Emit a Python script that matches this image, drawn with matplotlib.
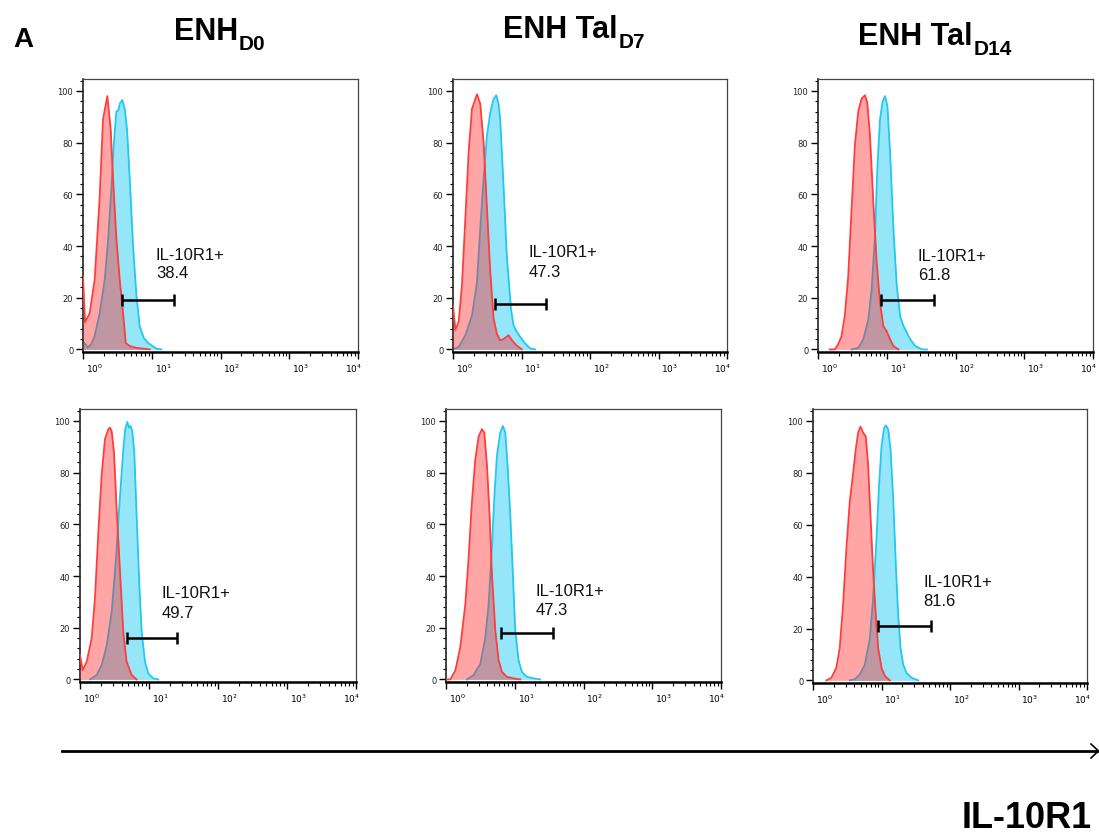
import numpy as np
import matplotlib
matplotlib.use('Agg')
import matplotlib.pyplot as plt
from matplotlib.lines import Line2D
from matplotlib.ticker import FixedLocator, LogLocator, NullFormatter, MultipleLocator
import matplotlib.transforms as mtransforms

W, H, DPI = 1099, 837, 100

# ---------------- data (log10 intensity, % of max) ----------------
p1_red_logx = [0, 0.03, 0.097, 0.17, 0.243, 0.291, 0.354, 0.403, 0.437, 0.485, 0.534, 0.583, 0.621, 0.68, 0.777, 0.874, 0.971]
p1_red_y = [28, 10.5, 14, 27, 59, 89, 98, 85, 66, 43, 27, 14, 2.5, 1.3, 0.6, 0.3, 0]
p1_blue_logx = [0, 0.07, 0.12, 0.17, 0.243, 0.316, 0.364, 0.413, 0.447, 0.485, 0.515, 0.534, 0.573, 0.607, 0.641, 0.68, 0.728, 0.777, 0.825, 0.883, 0.947, 1.01, 1.068, 1.14]
p1_blue_y = [3, 0.8, 2, 5.2, 14, 27, 42, 62, 79, 92, 92.5, 95, 96.5, 93, 85, 66, 40, 21, 9, 4.5, 2.5, 1.3, 0.3, 0]

p2_red_logx = [0, 0.034, 0.083, 0.131, 0.18, 0.228, 0.277, 0.35, 0.398, 0.447, 0.495, 0.544, 0.592, 0.641, 0.689, 0.738, 0.811, 0.859, 0.922, 1.005]
p2_red_y = [17, 7.5, 10.7, 24.8, 50.5, 76, 93, 98.7, 95, 80, 55, 30, 12, 6, 3.5, 4, 5.5, 3.6, 1.7, 0]
p2_blue_logx = [0, 0.083, 0.18, 0.277, 0.35, 0.398, 0.447, 0.495, 0.544, 0.592, 0.631, 0.665, 0.689, 0.738, 0.786, 0.825, 0.845, 0.883, 0.932, 0.981, 1.053, 1.126, 1.199]
p2_blue_y = [0, 1, 5.5, 13, 26, 46.7, 66, 82.6, 91.6, 96.8, 98.3, 95, 89, 63, 36, 23, 16, 9.4, 6.8, 4.9, 2.3, 0.4, 0]

p3_red_logx = [0.171, 0.244, 0.293, 0.341, 0.39, 0.439, 0.488, 0.537, 0.585, 0.634, 0.683, 0.717, 0.756, 0.805, 0.854, 0.902, 0.951, 1.0, 1.049, 1.098, 1.171]
p3_red_y = [0, 0, 2, 5, 13, 28, 54, 79, 92, 97, 98.3, 95.5, 82.6, 56.8, 33.5, 18, 9, 7, 3.9, 1.3, 0]
p3_blue_logx = [0.488, 0.585, 0.659, 0.732, 0.78, 0.829, 0.863, 0.902, 0.941, 0.976, 1.01, 1.049, 1.098, 1.146, 1.195, 1.244, 1.293, 1.341, 1.415, 1.512, 1.585]
p3_blue_y = [0, 0.6, 3.9, 11.6, 23, 44, 70, 89, 96, 98, 94, 76, 46, 24.5, 12.9, 9, 6.5, 3.9, 1.3, 0, 0]

p4_red_logx = [0, 0.039, 0.097, 0.169, 0.217, 0.266, 0.314, 0.362, 0.411, 0.435, 0.459, 0.493, 0.531, 0.58, 0.628, 0.676, 0.749, 0.821]
p4_red_y = [9.4, 3.6, 6.8, 15.9, 31.4, 57, 79, 93, 96.8, 97.4, 96, 87.8, 66, 41.6, 18, 6.8, 1.7, 0]
p4_blue_logx = [0.145, 0.242, 0.314, 0.386, 0.459, 0.522, 0.57, 0.604, 0.628, 0.657, 0.686, 0.71, 0.734, 0.758, 0.787, 0.821, 0.86, 0.894, 0.942, 0.99, 1.063, 1.135]
p4_blue_y = [0, 1.7, 5.5, 13, 26, 46.7, 67, 80, 89, 97, 99.6, 97.4, 98, 96, 87.8, 63, 36.4, 18.4, 6.8, 2.3, 0.4, 0]

p5_red_logx = [0, 0.063, 0.136, 0.208, 0.281, 0.329, 0.378, 0.426, 0.475, 0.523, 0.557, 0.596, 0.634, 0.668, 0.717, 0.765, 0.814, 0.886, 0.983, 1.08]
p5_red_y = [0, 0, 3.5, 12.5, 29, 47, 69, 85, 94, 96.8, 95.5, 82.8, 63.6, 40.6, 19, 7.4, 2.9, 1, 0.4, 0]
p5_blue_logx = [0.305, 0.402, 0.499, 0.571, 0.62, 0.668, 0.702, 0.741, 0.789, 0.828, 0.862, 0.896, 0.935, 0.973, 1.007, 1.056, 1.104, 1.177, 1.274, 1.37]
p5_blue_y = [0, 1.7, 6, 16, 29, 51, 70, 86.6, 95.5, 98, 95.5, 82.8, 63.6, 40.6, 19, 7.4, 2.9, 1, 0.4, 0]

p6_red_logx = [0.195, 0.268, 0.341, 0.39, 0.439, 0.488, 0.537, 0.585, 0.624, 0.659, 0.693, 0.732, 0.771, 0.805, 0.839, 0.878, 0.917, 0.951, 1.0, 1.049, 1.122]
p6_red_y = [0, 1, 4.9, 12.5, 29, 51, 69, 79.6, 89, 95.5, 97.8, 95.5, 94, 82.8, 63.6, 42, 25, 12.5, 4.9, 1.7, 0]
p6_blue_logx = [0.537, 0.61, 0.683, 0.756, 0.829, 0.878, 0.927, 0.966, 1.0, 1.034, 1.063, 1.098, 1.132, 1.171, 1.21, 1.244, 1.278, 1.317, 1.366, 1.439, 1.537]
p6_blue_y = [0, 0.4, 2.3, 6, 16, 31.7, 54.7, 76, 90, 96.8, 98.3, 96.8, 89, 70, 44, 25, 12.5, 6, 2.9, 1, 0]

# gates (log10 bounds) and gate heights
gate_lo = [0.573, 0.617, 0.917, 0.676, 0.804, 0.951]
gate_hi = [1.325, 1.359, 1.683, 1.411, 1.550, 1.722]
gate_y = [19.1, 17.5, 19.0, 16.2, 17.9, 20.8]
gate_label = 'IL-10R1+'
gate_pct = ['38.4', '47.3', '61.8', '49.7', '47.3', '81.6']

col_titles = [('ENH', 'D0'), ('ENH Tal', 'D7'), ('ENH Tal', 'D14')]
x_ticklabels = [r'$10^{0}$', r'$10^{1}$', r'$10^{2}$', r'$10^{3}$', r'$10^{4}$']
y_ticks = [0, 20, 40, 60, 80, 100]
x_title = 'IL-10R1'

# ---------------- layout (pixels) ----------------
axes_px = [(83, 80, 358, 353), (453, 80, 727, 353), (818, 80, 1093, 353),
           (80, 410, 356, 683), (446, 410, 721, 683), (813, 410, 1087, 684)]
text_px = [(1.06, 36.6, 29.7), (1.10, 37.7, 30.0), (1.454, 36.5, 29.0),
           (1.184, 33.8, 26.0), (1.298, 34.5, 27.2), (1.61, 38.0, 30.7)]

panels = [
    (p1_red_logx, p1_red_y, p1_blue_logx, p1_blue_y),
    (p2_red_logx, p2_red_y, p2_blue_logx, p2_blue_y),
    (p3_red_logx, p3_red_y, p3_blue_logx, p3_blue_y),
    (p4_red_logx, p4_red_y, p4_blue_logx, p4_blue_y),
    (p5_red_logx, p5_red_y, p5_blue_logx, p5_blue_y),
    (p6_red_logx, p6_red_y, p6_blue_logx, p6_blue_y),
]

RED_LINE = '#ff3d3d'
RED_FILL = '#ff2020'
BLUE_LINE = '#22c8f0'
BLUE_FILL = '#96e6fa'

fig = plt.figure(figsize=(W / DPI, H / DPI), dpi=DPI)
fig.patch.set_facecolor('white')

for i, (rx, ry, bx, by) in enumerate(panels):
    l, t, r, b = axes_px[i]
    ax = fig.add_axes([l / W, 1 - b / H, (r - l) / W, (b - t) / H])
    rxv = 10 ** np.asarray(rx)
    bxv = 10 ** np.asarray(bx)
    ax.fill_between(bxv, by, 0, color=BLUE_FILL, lw=0, zorder=1)
    ax.plot(bxv, by, color=BLUE_LINE, lw=1.3, zorder=2)
    ax.fill_between(rxv, ry, 0, color=RED_FILL, alpha=0.4, lw=0, zorder=3)
    ax.plot(rxv, ry, color=RED_LINE, lw=1.3, zorder=4)

    # gate
    gx = [10 ** gate_lo[i], 10 ** gate_hi[i]]
    ax.plot(gx, [gate_y[i], gate_y[i]], color='black', lw=1.8, zorder=5,
            solid_capstyle='butt')
    ax.plot(gx, [gate_y[i], gate_y[i]], ls='none', marker='|', ms=8, mew=1.8,
            color='black', zorder=5)
    tx, ty1, ty2 = text_px[i]
    ax.text(10 ** tx, ty1, gate_label, fontsize=12, family='Liberation Sans',
            ha='left', va='center', color='#111111', zorder=6)
    ax.text(10 ** tx, ty2, gate_pct[i], fontsize=12, family='Liberation Sans',
            ha='left', va='center', color='#111111', zorder=6)

    ax.set_xscale('log')
    ax.set_xlim(1, 1e4)
    ax.set_ylim(-1.0, 104.6)
    ax.xaxis.set_major_locator(FixedLocator([1, 10, 100, 1000, 10000]))
    ax.xaxis.set_minor_locator(LogLocator(base=10, subs=np.arange(2, 10), numticks=20))
    ax.xaxis.set_minor_formatter(NullFormatter())
    ax.set_xticklabels(x_ticklabels)
    ax.set_yticks(y_ticks)
    ax.set_yticklabels([str(v) for v in y_ticks])
    ax.yaxis.set_minor_locator(MultipleLocator(4))
    ax.tick_params(axis='x', which='major', length=5, width=1.0, direction='out',
                   labelsize=6.5, pad=2, colors='black')
    ax.tick_params(axis='x', which='minor', length=2.8, width=0.8, direction='out')
    ax.tick_params(axis='y', which='major', length=5, width=1.0, direction='out',
                   labelsize=6, pad=2, colors='black')
    ax.tick_params(axis='y', which='minor', length=2.5, width=0.8, direction='out')
    for lab in ax.get_yticklabels():
        lab.set_color('#222222')
    labs = ax.get_xticklabels()
    for j, lab in enumerate(labs):
        if j < 4:
            lab.set_ha('left')
            lab.set_transform(lab.get_transform() +
                              mtransforms.ScaledTranslation(2 / 72, 0, fig.dpi_scale_trans))
        else:
            lab.set_ha('right')
            lab.set_transform(lab.get_transform() +
                              mtransforms.ScaledTranslation(3 / 72, 0, fig.dpi_scale_trans))
    for side in ['top', 'right']:
        ax.spines[side].set_linewidth(0.9)
        ax.spines[side].set_color('#444444')
    ax.spines['left'].set_linewidth(1.2)
    ax.spines['left'].set_color('#222222')
    ax.spines['bottom'].set_linewidth(1.8)
    ax.spines['bottom'].set_color('black')

# ---------------- titles ----------------
fig.text(13 / W, 1 - 47 / H, 'A', fontsize=20, fontweight='bold',
         family='Liberation Sans', ha='left', va='baseline')

title_pos = [(174, 40), (503, 38), (858, 45)]
fig.canvas.draw()
renderer = fig.canvas.get_renderer()
for (main, sub), (x0, yb) in zip(col_titles, title_pos):
    t = fig.text(x0 / W, 1 - yb / H, main, fontsize=22, fontweight='bold',
                 family='Liberation Sans', ha='left', va='baseline')
    bb = t.get_window_extent(renderer=renderer)
    fig.text((bb.x1 + 1) / W, 1 - (yb + 10) / H, sub, fontsize=15, fontweight='bold',
             family='Liberation Sans', ha='left', va='baseline')

# ---------------- bottom axis arrow ----------------
y_arrow = 1 - 752 / H
fig.add_artist(Line2D([62 / W, 1097 / W], [y_arrow, y_arrow], color='black', lw=2.0))
fig.add_artist(Line2D([1091 / W, 1098.5 / W, 1091 / W],
                      [1 - 745 / H, y_arrow, 1 - 759 / H], color='black', lw=1.2))
fig.text(1092 / W, 1 - 828 / H, x_title, fontsize=26, fontweight='bold',
         family='Liberation Sans', ha='right', va='baseline')

fig.savefig('out.png', dpi=DPI, facecolor='white')
